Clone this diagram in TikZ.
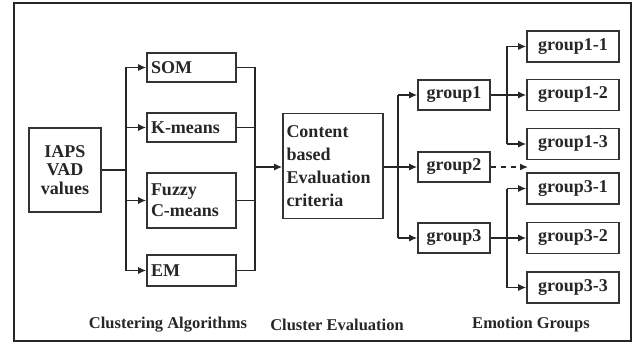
\documentclass[tikz,border=0pt]{standalone}
\usepackage{fontspec}
\setmainfont{Liberation Serif}
\usetikzlibrary{arrows.meta}
\begin{document}
\begin{tikzpicture}[x=1pt,y=-1pt,
  every node/.style={font=\fontsize{18}{21}\selectfont\bfseries, text=black!85},
  box/.style={draw=black!80, line width=1.6pt, inner sep=2pt, align=center},
  lbl/.style={font=\fontsize{16.5}{18}\selectfont\bfseries},
  con/.style={line width=1.3pt, draw=black!85},
  arr/.style={con, -{Latex[length=8pt,width=7pt]}}]
\useasboundingbox (0,0) rectangle (632,350);
\draw[line width=1.5pt, black!85] (14,3) rectangle (631,341);
% nodes
\node[box, minimum width=72pt, minimum height=84pt, font=\fontsize{18}{18.5}\selectfont\bfseries] (iaps) at (65,170) {IAPS\\VAD\\values};
\node[box, minimum width=89pt, minimum height=29pt, align=left, text width=81pt] (som) at (191.5,67.5) {SOM};
\node[box, minimum width=89pt, minimum height=29pt, align=left, text width=81pt] (km) at (191.5,127.5) {K-means};
\node[box, minimum width=89pt, minimum height=55pt, align=left, text width=81pt] (fz) at (191.5,200.5) {Fuzzy\\C-means};
\node[box, minimum width=89pt, minimum height=31pt, align=left, text width=81pt] (em) at (191.5,270.5) {EM};
\node[box, minimum width=100pt, minimum height=105pt, align=left, text width=93pt, font=\fontsize{18}{23}\selectfont\bfseries] (ct) at (333,166) {Content\\based\\Evaluation\\criteria};
\node[box, minimum width=72pt, minimum height=30pt] (g1) at (454,95) {group1};
\node[box, minimum width=72pt, minimum height=30pt] (g2) at (454,167) {group2};
\node[box, minimum width=72pt, minimum height=30pt] (g3) at (454,238) {group3};
\node[box, minimum width=92pt, minimum height=31pt] (g11) at (573,46.5) {group1-1};
\node[box, minimum width=92pt, minimum height=31pt] (g12) at (573,95) {group1-2};
\node[box, minimum width=92pt, minimum height=31pt] (g13) at (573,144) {group1-3};
\node[box, minimum width=92pt, minimum height=31pt] (g31) at (573,188.5) {group3-1};
\node[box, minimum width=92pt, minimum height=31pt] (g32) at (573,238) {group3-2};
\node[box, minimum width=92pt, minimum height=31pt] (g33) at (573,287.5) {group3-3};
% labels
\node[lbl] (l1) at (168,325) {Clustering Algorithms};
\node[lbl] (l2) at (337,325) {Cluster Evaluation};
\node[lbl] (l3) at (531,325) {Emotion Groups};
% coordinates
\coordinate (sp) at (126,170);
\coordinate (mg) at (255,167);
\coordinate (sp2) at (398,167);
\coordinate (sp3) at (507,95);
\coordinate (sp4) at (507,238);
\coordinate (dend) at (528,167);
% connectors
\draw[con] (iaps.east |- sp) -- (sp);
\draw[con] (sp |- som) -- (sp |- em);
\foreach \n in {som,km,fz,em} {\draw[arr] (sp |- \n) -- (\n.west);}
\foreach \n in {som,km,fz,em} {\draw[con] (\n.east) -- (mg |- \n);}
\draw[con] (mg |- som) -- (mg |- em);
\draw[arr] (mg) -- (ct.west |- mg);
\draw[arr] (ct.east |- g2) -- (g2.west);
\draw[con] (sp2 |- g1) -- (sp2 |- g3);
\draw[arr] (sp2 |- g1) -- (g1.west);
\draw[arr] (sp2 |- g3) -- (g3.west);
\draw[arr] (g1.east) -- (g12.west);
\draw[con] (sp3 |- g11) -- (sp3 |- g13);
\draw[arr] (sp3 |- g11) -- (g11.west);
\draw[arr] (sp3 |- g13) -- (g13.west);
\draw[arr] (g3.east) -- (g32.west);
\draw[con] (sp4 |- g31) -- (sp4 |- g33);
\draw[arr] (sp4 |- g31) -- (g31.west);
\draw[arr] (sp4 |- g33) -- (g33.west);
\draw[arr, dash pattern=on 5pt off 5pt] (g2.east) -- (dend);
\end{tikzpicture}
\end{document}
